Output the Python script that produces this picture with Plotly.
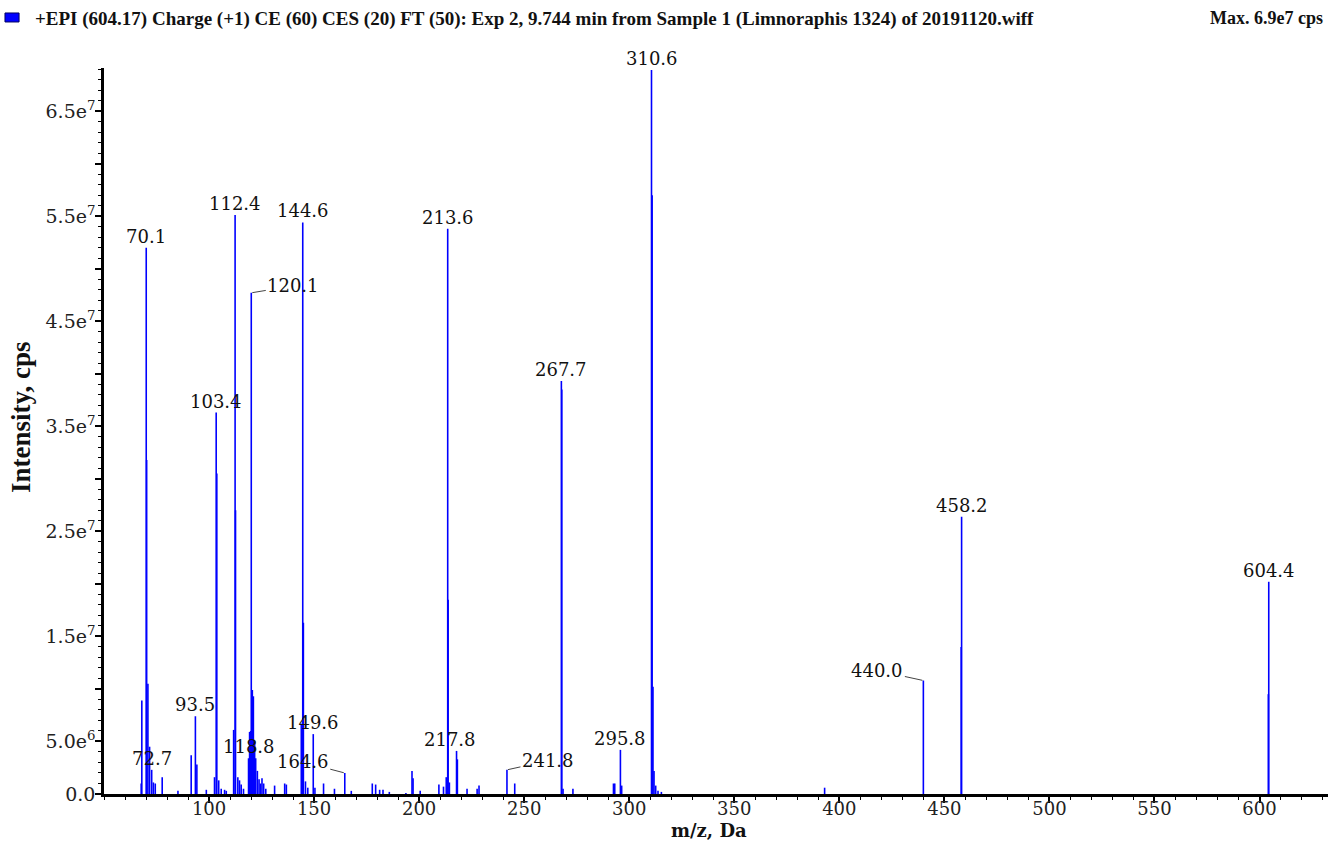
import plotly.graph_objects as go

# ---------------- data ----------------
# peak m/z values (Da) and intensities (cps)
peak_mz = [
    67.7, 68.0, 70.1, 70.3, 70.9, 71.7, 72.7, 73.5, 74.4, 77.7, 85.2,
    91.5, 93.5, 94.2, 98.7, 102.6, 103.4, 103.7, 104.6, 105.8, 107.4, 108.2,
    111.7, 112.4, 112.6, 113.7, 114.5, 115.3, 116.4,
    118.8, 119.3, 119.8, 120.1, 120.6, 121.1, 121.7, 122.2, 123.0, 123.8,
    124.5, 125.2, 126.0, 127.0, 131.2, 136.0, 136.8,
    143.9, 144.6, 144.9, 145.9, 147.0, 149.6, 150.4, 154.5, 159.7, 164.6,
    167.7, 177.7, 179.3, 181.2, 182.8, 185.8, 193.7, 196.6, 197.1, 200.5,
    209.4, 211.6, 212.9, 213.6, 213.8, 214.4, 217.8, 218.2, 222.8, 227.6,
    228.5, 241.8, 245.5, 267.7, 267.9, 268.5, 273.2, 292.5, 293.1, 295.8,
    296.4, 310.6, 310.9, 311.3, 311.8, 312.6, 313.7, 315.3, 393.0, 440.0,
    458.0, 458.2, 604.2, 604.4,
]
peak_int_e6 = [
    1.0, 8.9, 52.0, 31.8, 10.5, 4.5, 2.3, 1.1, 1.0, 1.6, 0.3,
    3.7, 7.4, 2.8, 0.4, 1.6, 36.3, 30.5, 1.3, 0.5, 0.4, 0.3,
    6.1, 55.1, 27.0, 1.6, 1.3, 0.9, 0.5,
    3.4, 5.9, 6.0, 47.7, 9.9, 9.3, 5.0, 3.4, 2.2, 1.4,
    1.0, 1.5, 1.0, 0.5, 0.8, 1.0, 0.9,
    6.7, 54.4, 16.3, 1.2, 0.6, 5.7, 0.6, 1.0, 0.5, 2.0,
    0.3, 1.0, 0.9, 0.4, 0.4, 0.2, 0.1, 2.2, 1.5, 0.3,
    0.9, 0.7, 1.6, 53.8, 18.5, 1.1, 4.1, 3.3, 0.5, 0.5,
    0.8, 2.3, 1.0, 39.3, 38.5, 0.5, 0.5, 1.0, 1.0, 4.2,
    0.8, 68.9, 57.0, 10.2, 2.2, 0.8, 0.3, 0.2, 0.6, 10.8,
    14.0, 26.4, 9.5, 20.2,
]
peak_int = [v * 1e6 for v in peak_int_e6]

# labelled peaks
label_mz = [70.1, 72.7, 93.5, 103.4, 112.4, 118.8, 120.1, 144.6, 149.6,
            164.6, 213.6, 217.8, 241.8, 267.7, 295.8, 310.6, 440.0, 458.2, 604.4]

# axis ticks
x_tick_vals = [100, 150, 200, 250, 300, 350, 400, 450, 500, 550, 600]
x_tick_text = ["100", "150", "200", "250", "300", "350", "400", "450", "500", "550", "600"]
y_tick_vals = [0, 5e6, 1e7, 1.5e7, 2e7, 2.5e7, 3e7, 3.5e7, 4e7, 4.5e7, 5e7, 5.5e7, 6e7, 6.5e7]
y_tick_text = ["0.0", "5.0e<sup>6</sup>", "", "1.5e<sup>7</sup>", "", "2.5e<sup>7</sup>", "",
               "3.5e<sup>7</sup>", "", "4.5e<sup>7</sup>", "", "5.5e<sup>7</sup>", "",
               "6.5e<sup>7</sup>"]

title_text = ("+EPI (604.17) Charge (+1) CE (60) CES (20) FT (50): Exp 2, 9.744 min "
              "from Sample 1 (Limnoraphis 1324) of 20191120.wiff")
max_text = "Max. 6.9e7 cps"

# ---------------- styling ----------------
X_RANGE = [50, 632.6]
Y_RANGE = [0, 6.91e7]
BLUE = "#0000FF"
SERIF = "DejaVu Serif"
BOLD_SERIF = "Liberation Serif"

# leader-line label offsets (pixels) and small shifts
leader = {120.1: (42, -7), 164.6: (-42, -11), 241.8: (41, -9), 440.0: (-46, -10)}
xshift = {217.8: -7}

# ---------------- build ----------------
xs, ys = [], []
for m, v in zip(peak_mz, peak_int):
    xs += [m, m, None]
    ys += [0, v, None]

fig = go.Figure()
fig.add_trace(go.Scatter(x=xs, y=ys, mode="lines",
                         line=dict(color=BLUE, width=1.6),
                         hoverinfo="skip", showlegend=False, cliponaxis=False))
# small origin marker
fig.add_trace(go.Scatter(x=[X_RANGE[0] - 1.3], y=[4e5], mode="markers",
                         marker=dict(symbol="triangle-right", size=9, color=BLUE),
                         cliponaxis=False, showlegend=False, hoverinfo="skip"))

lookup = dict(zip(peak_mz, peak_int))
annotations = []
for m in label_mz:
    h = lookup[m]
    txt = f"{m:.1f}"
    if m in leader:
        ax, ay = leader[m]
        annotations.append(dict(x=m, y=h, xref="x", yref="y", text=txt,
                                showarrow=True, arrowhead=0, arrowwidth=1,
                                arrowcolor="#444", ax=ax, ay=ay, standoff=1,
                                font=dict(family=SERIF, size=18, color="#111")))
    else:
        annotations.append(dict(x=m, y=h, xref="x", yref="y", text=txt,
                                showarrow=False, yanchor="bottom", xanchor="center",
                                xshift=xshift.get(m, 0), yshift=-1,
                                font=dict(family=SERIF, size=18, color="#111")))

annotations.append(dict(text=max_text, xref="paper", yref="paper",
                        x=0.9975, y=1.0689, xanchor="right", yanchor="middle",
                        showarrow=False,
                        font=dict(family=BOLD_SERIF, size=18, color="#111", weight="bold")))
annotations.append(dict(text="<b>m/z, Da</b>", xref="paper", yref="paper",
                        x=0.494, y=-0.0505, xanchor="center", yanchor="middle",
                        showarrow=False,
                        font=dict(family=SERIF, size=18, color="#111")))
annotations.append(dict(text="<b>Intensity, cps</b>", xref="paper", yref="paper",
                        x=-0.068, y=0.519, xanchor="center", yanchor="middle",
                        textangle=-90, showarrow=False,
                        font=dict(family=BOLD_SERIF, size=27, color="#111")))

fig.update_layout(
    width=1335, height=848, autosize=False,
    margin=dict(l=104, r=7, t=68, b=54),
    paper_bgcolor="white", plot_bgcolor="white",
    title=dict(text=f"<b>{title_text}</b>", x=35 / 1335, xanchor="left", xref="container",
               y=1 - 18 / 848, yanchor="middle", yref="container",
               font=dict(family=BOLD_SERIF, size=19, color="#111")),
    annotations=annotations,
    shapes=[dict(type="rect", xref="paper", yref="paper",
                 x0=-0.0809, x1=-0.0694, y0=1.0634, y1=1.0758,
                 fillcolor=BLUE, line=dict(color="#000060", width=1))],
    showlegend=False,
)
fig.update_xaxes(range=X_RANGE, showline=True, linecolor="black", linewidth=2.5,
                 ticks="outside", ticklen=6, tickwidth=1.5, tickcolor="black",
                 tickmode="array", tickvals=x_tick_vals, ticktext=x_tick_text,
                 ticklabelstandoff=-9,
                 minor=dict(tickmode="linear", tick0=0, dtick=10, ticks="outside",
                            ticklen=3, tickwidth=1, tickcolor="black"),
                 showgrid=False, zeroline=False,
                 tickfont=dict(family=SERIF, size=18, color="#222"))
fig.update_yaxes(range=Y_RANGE, showline=True, linecolor="black", linewidth=2.5,
                 ticks="outside", ticklen=6, tickwidth=1.5, tickcolor="black",
                 tickmode="array", tickvals=y_tick_vals, ticktext=y_tick_text,
                 ticklabelstandoff=-4,
                 minor=dict(tickmode="linear", tick0=0, dtick=1e6, ticks="outside",
                            ticklen=3, tickwidth=1, tickcolor="black"),
                 showgrid=False, zeroline=False,
                 tickfont=dict(family=SERIF, size=19, color="#222"))

fig.write_html("out.html")
